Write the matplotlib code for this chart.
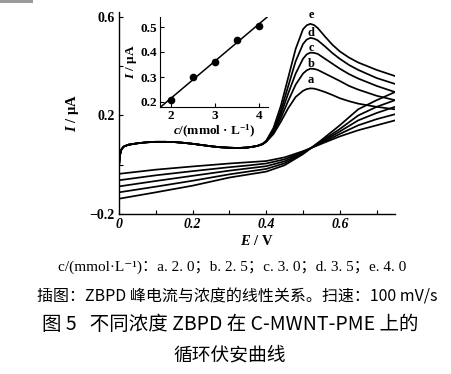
import numpy as np
import matplotlib
matplotlib.use('Agg')
import matplotlib.pyplot as plt
from matplotlib.patches import Rectangle

plt.rcParams['font.family'] = ['Liberation Serif', 'Noto Sans CJK SC', 'DejaVu Sans']
plt.rcParams['mathtext.fontset'] = 'custom'
plt.rcParams['mathtext.rm'] = 'Liberation Serif:bold'
plt.rcParams['mathtext.it'] = 'Liberation Serif:italic:bold'
plt.rcParams['mathtext.bf'] = 'Liberation Serif:bold'
plt.rcParams['axes.unicode_minus'] = True

# ---------------- data ----------------
labels = ['a', 'b', 'c', 'd', 'e']
conc = [2.0, 2.5, 3.0, 3.5, 4.0]

# common forward (anodic) scan, all curves overlap here
E_fwd_base = [0.000, 0.002, 0.006, 0.012, 0.025, 0.05, 0.075, 0.10, 0.125, 0.15,
              0.175, 0.20, 0.225, 0.25, 0.275, 0.30, 0.325, 0.35, 0.375]
I_fwd_base = [-0.008, 0.035, 0.060, 0.073, 0.081, 0.087, 0.091, 0.093, 0.093, 0.092,
              0.089, 0.085, 0.080, 0.075, 0.071, 0.069, 0.068, 0.070, 0.076]

# forward scan, peak region
E_fwd_peak = [0.39, 0.40, 0.42, 0.44, 0.46, 0.48, 0.50, 0.51, 0.52, 0.53, 0.54, 0.56,
              0.58, 0.60, 0.625, 0.65, 0.70, 0.75]
I_fwd_a = [0.083, 0.093, 0.125, 0.175, 0.230, 0.275, 0.300, 0.307, 0.310, 0.309, 0.305, 0.295,
           0.283, 0.270, 0.258, 0.248, 0.235, 0.225]
I_fwd_b = [0.083, 0.094, 0.130, 0.190, 0.260, 0.325, 0.370, 0.383, 0.390, 0.389, 0.385, 0.370,
           0.355, 0.340, 0.320, 0.305, 0.280, 0.262]
I_fwd_c = [0.084, 0.095, 0.135, 0.205, 0.290, 0.370, 0.430, 0.448, 0.455, 0.454, 0.450, 0.430,
           0.410, 0.390, 0.368, 0.350, 0.320, 0.295]
I_fwd_d = [0.084, 0.096, 0.140, 0.220, 0.320, 0.420, 0.490, 0.508, 0.515, 0.512, 0.505, 0.480,
           0.453, 0.430, 0.405, 0.385, 0.352, 0.328]
I_fwd_e = [0.085, 0.097, 0.150, 0.240, 0.355, 0.470, 0.550, 0.566, 0.572, 0.567, 0.555, 0.520,
           0.487, 0.460, 0.435, 0.415, 0.385, 0.360]

# reverse (cathodic) scan
E_rev = [0.75, 0.70, 0.65, 0.60, 0.55, 0.50, 0.45, 0.40, 0.35, 0.30, 0.20, 0.10, 0.0]
I_rev_a = [0.180, 0.160, 0.140, 0.115, 0.085, 0.055, 0.030, 0.015, 0.010, 0.005, -0.007, -0.020, -0.037]
I_rev_b = [0.205, 0.185, 0.160, 0.125, 0.088, 0.052, 0.022, 0.005, -0.003, -0.010, -0.026, -0.043, -0.063]
I_rev_c = [0.235, 0.210, 0.180, 0.135, 0.092, 0.049, 0.014, -0.006, -0.015, -0.024, -0.045, -0.066, -0.088]
I_rev_d = [0.262, 0.235, 0.200, 0.145, 0.096, 0.046, 0.006, -0.017, -0.028, -0.039, -0.065, -0.089, -0.112]
I_rev_e = [0.295, 0.262, 0.225, 0.160, 0.100, 0.043, -0.002, -0.028, -0.040, -0.052, -0.085, -0.112, -0.138]

# curve-letter positions (E, I)
label_E = [0.522, 0.522, 0.522, 0.522, 0.522]
label_I = [0.344, 0.409, 0.474, 0.535, 0.606]

# inset: peak current vs concentration
inset_c = [2.0, 2.5, 3.0, 3.5, 4.0]
inset_I = [0.208, 0.299, 0.359, 0.449, 0.505]

fwd_peaks = [I_fwd_a, I_fwd_b, I_fwd_c, I_fwd_d, I_fwd_e]
revs = [I_rev_a, I_rev_b, I_rev_c, I_rev_d, I_rev_e]

# ---------------- figure ----------------
fig = plt.figure(figsize=(4.51, 3.74), dpi=100)
fig.patches.append(Rectangle((0, 1 - 3 / 374), 33 / 451, 3 / 374, transform=fig.transFigure,
                             facecolor='#9a9a9a', edgecolor='none'))

ax = fig.add_axes([119 / 451, 1 - 214 / 374, 276 / 451, 202 / 374])
lw = 1.25
for fp, rv in zip(fwd_peaks, revs):
    ax.plot(E_fwd_base + E_fwd_peak, I_fwd_base + fp, color='black', lw=lw, solid_joinstyle='round')
    ax.plot(E_rev, rv, color='black', lw=lw, solid_joinstyle='round')

for lab, x, y in zip(labels, label_E, label_I):
    ax.text(x, y, lab, ha='center', va='center', fontsize=9, fontweight='bold')

ax.set_xlim(0, 0.75)
ax.set_ylim(-0.2, 0.62)
for s in ['top', 'right']:
    ax.spines[s].set_visible(False)
for s in ['left', 'bottom']:
    ax.spines[s].set_linewidth(1.0)
ax.set_xticks([0, 0.2, 0.4, 0.6])
ax.set_xticklabels(['0', '0.2', '0.4', '0.6'], fontsize=10, fontweight='bold', fontstyle='italic')
ax.set_xticks([0.1, 0.3, 0.5, 0.7], minor=True)
ax.set_yticks([-0.2, 0.2, 0.6])
ax.set_yticklabels(['\u22120.2', '0.2', '0.6'], fontsize=10, fontweight='bold')
ax.set_yticks([0.0, 0.4], minor=True)
ax.tick_params(which='both', direction='in', length=3, width=0.8, pad=3)
ax.set_xlabel(r'$E$ / V', fontsize=10.5, fontweight='bold', labelpad=2)
ax.set_ylabel(r'$I$ / μA', fontsize=10.5, fontweight='bold', labelpad=6)

# inset
axi = fig.add_axes([160 / 451, 1 - 107 / 374, 108 / 451, 90 / 374])
axi.patch.set_alpha(0)
axi.plot(inset_c, inset_I, 'o', color='black', ms=4.5)
k, b0 = np.polyfit(inset_c, inset_I, 1)
xl = np.array([1.78, 4.22])
axi.plot(xl, k * xl + b0, color='black', lw=1.1)
axi.set_xlim(1.75, 4.2)
axi.set_ylim(0.18, 0.54)
for s in ['top', 'right']:
    axi.spines[s].set_visible(False)
axi.set_xticks([2, 3, 4])
axi.set_xticklabels(['2', '3', '4'], fontsize=9.5, fontweight='bold')
axi.set_yticks([0.2, 0.3, 0.4, 0.5])
axi.set_yticklabels(['0.2', '0.3', '0.4', '0.5'], fontsize=9.5, fontweight='bold')
axi.tick_params(direction='in', length=3, width=0.8, pad=2)
axi.set_xlabel(r'$c$/(mmol · L$^{-1}$)', fontsize=9.5, fontweight='bold', labelpad=1)
axi.set_ylabel(r'$I$ / μA', fontsize=9.5, fontweight='bold', labelpad=1)

# captions
fig.text(0.515, 1 - 267 / 374, 'c/(mmol·L⁻¹)：a. 2. 0；b. 2. 5；c. 3. 0；d. 3. 5；e. 4. 0',
         ha='center', va='center', fontsize=11)
fig.text(0.527, 1 - 297 / 374, '插图：ZBPD 峰电流与浓度的线性关系。扫速：100 mV/s',
         ha='center', va='center', fontsize=11.5,
         family=['Noto Sans CJK SC', 'DejaVu Sans'])
fig.text(0.51, 1 - 325 / 374, '图 5   不同浓度 ZBPD 在 C-MWNT-PME 上的',
         ha='center', va='center', fontsize=14,
         family=['Noto Sans CJK SC', 'DejaVu Sans'])
fig.text(0.51, 1 - 355 / 374, '循环伏安曲线',
         ha='center', va='center', fontsize=13.5,
         family=['Noto Sans CJK SC', 'DejaVu Sans'])

fig.savefig('out.png', dpi=100)
